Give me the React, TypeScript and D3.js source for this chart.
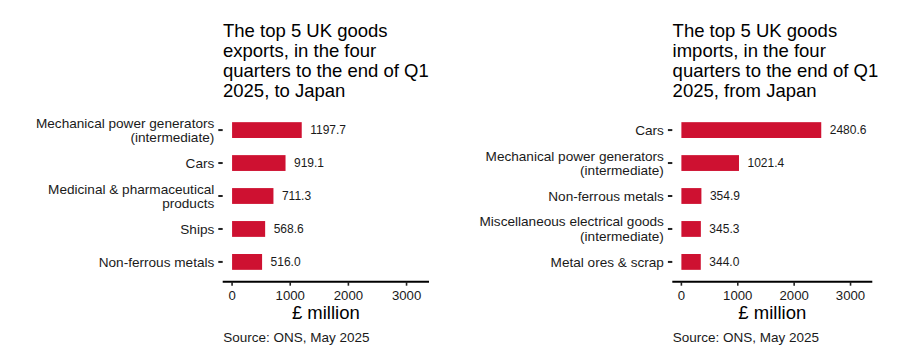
import React from "react";
import * as d3 from "d3";

const exportCategories = [
  "Mechanical power generators\n(intermediate)",
  "Cars",
  "Medicinal & pharmaceutical\nproducts",
  "Ships",
  "Non-ferrous metals",
];
const exportValues = [1197.7, 919.1, 711.3, 568.6, 516.0];

const importCategories = [
  "Cars",
  "Mechanical power generators\n(intermediate)",
  "Non-ferrous metals",
  "Miscellaneous electrical goods\n(intermediate)",
  "Metal ores & scrap",
];
const importValues = [2480.6, 1021.4, 354.9, 345.3, 344.0];

const xTicks = [0, 1000, 2000, 3000];

const exportTitle = ["The top 5 UK goods", "exports, in the four", "quarters to the end of Q1", "2025, to Japan"];
const importTitle = ["The top 5 UK goods", "imports, in the four", "quarters to the end of Q1", "2025, from Japan"];
const axisTitle = "£ million";
const sourceText = "Source: ONS, May 2025";

const FONT = "'Liberation Sans', Arial, Helvetica, sans-serif";
const BAR = "#CE1131";
const TEXT = "#1a1a1a";

const limitMax = d3.max(importValues.concat(exportValues))! * 1.3;
const expand = 0.05 * limitMax;

type PanelProps = {
  x0: number;
  x1: number;
  categories: string[];
  values: number[];
  title: string[];
};

function Panel({ x0, x1, categories, values, title }: PanelProps) {
  const yTop = 110.3;
  const yBottom = 281.7;
  const x = d3.scaleLinear().domain([-expand, limitMax + expand]).range([x0, x1]);
  const y = d3
    .scalePoint<number>()
    .domain(d3.range(categories.length))
    .range([yTop, yBottom])
    .padding(0.6);
  const step = y.step();
  const barH = step * 0.48;
  const labelFs = 13.6;
  const lineH = 14.6;

  return (
    <g>
      {title.map((t, i) => (
        <text key={i} x={x0 + 0.3} y={36.7 + i * 20.2} fontSize={18.5} fill="#000" fontFamily={FONT}>
          {t}
        </text>
      ))}
      {values.map((v, i) => {
        const cy = y(i)!;
        return (
          <g key={i}>
            <rect x={x(0)} y={cy - barH / 2} width={x(v) - x(0)} height={barH} fill={BAR} />
            <text x={x(v) + 8.5} y={cy + 4.2} fontSize={12} fill={TEXT} fontFamily={FONT}>
              {v.toFixed(1)}
            </text>
          </g>
        );
      })}
      {categories.map((c, i) => {
        const cy = y(i)!;
        const lines = c.split("\n");
        const start = cy - ((lines.length - 1) * lineH) / 2 + 4.8;
        return (
          <g key={i}>
            <line x1={x0 - 4.4} x2={x0} y1={cy} y2={cy} stroke="#222" strokeWidth={2} />
            {lines.map((l, j) => (
              <text
                key={j}
                x={x0 - 8.4}
                y={start + j * lineH}
                textAnchor="end"
                fontSize={labelFs}
                fill={TEXT}
                fontFamily={FONT}
              >
                {l}
              </text>
            ))}
          </g>
        );
      })}
      <line x1={x0} x2={x1} y1={yBottom} y2={yBottom} stroke="#000" strokeWidth={2} />
      {xTicks.map((t) => (
        <g key={t}>
          <line x1={x(t)} x2={x(t)} y1={yBottom} y2={yBottom + 4} stroke="#222" strokeWidth={1.6} />
          <text x={x(t)} y={299.5} textAnchor="middle" fontSize={13.2} fill={TEXT} fontFamily={FONT}>
            {t}
          </text>
        </g>
      ))}
      <text x={(x0 + x1) / 2} y={319.3} textAnchor="middle" fontSize={18.5} fill="#000" fontFamily={FONT}>
        {axisTitle}
      </text>
      <text x={x0 + 0.5} y={342.3} fontSize={13.5} fill={TEXT} fontFamily={FONT}>
        {sourceText}
      </text>
    </g>
  );
}

export default function App() {
  return (
    <svg
      width={911}
      height={358}
      style={{ position: "absolute", left: 0, top: 0, background: "#fff" }}
    >
      <rect x={0} y={0} width={911} height={358} fill="#fff" />
      <Panel x0={222.7} x1={429} categories={exportCategories} values={exportValues} title={exportTitle} />
      <Panel x0={672.3} x1={872.3} categories={importCategories} values={importValues} title={importTitle} />
    </svg>
  );
}
